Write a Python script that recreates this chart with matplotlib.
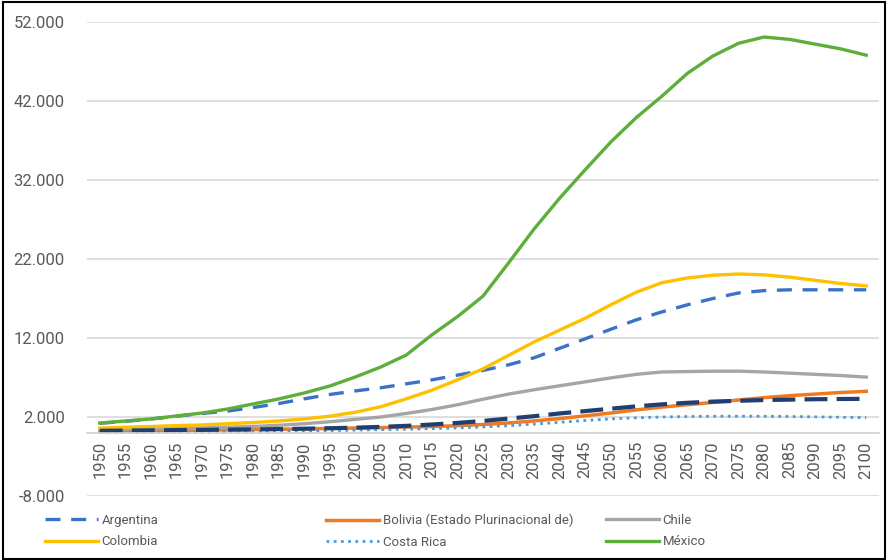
import matplotlib
matplotlib.use("Agg")
import matplotlib.pyplot as plt
from matplotlib.patches import Rectangle
from matplotlib.ticker import FuncFormatter

plt.rcParams['font.family'] = ['Roboto', 'DejaVu Sans']

years = list(range(1950, 2101, 5))

argentina = [1200, 1450, 1750, 2100, 2450, 2750, 3200, 3700, 4300, 4850, 5300, 5700,
             6200, 6700, 7300, 7900, 8600, 9500, 10700, 11900, 13100, 14300, 15300,
             16200, 17000, 17700, 18000, 18100, 18100, 18100, 18100]
bolivia = [220, 240, 270, 300, 330, 370, 410, 450, 500, 550, 600, 660, 720, 800, 900,
           1050, 1250, 1500, 1800, 2150, 2500, 2900, 3250, 3550, 3850, 4150, 4450,
           4700, 4900, 5100, 5250]
chile = [400, 450, 500, 560, 620, 700, 800, 950, 1150, 1400, 1700, 2000, 2450, 2950,
         3550, 4250, 4900, 5450, 5950, 6450, 6950, 7400, 7700, 7750, 7800, 7800, 7700,
         7550, 7400, 7250, 7050]
colombia = [600, 700, 800, 900, 1000, 1150, 1300, 1500, 1750, 2100, 2600, 3300, 4300,
            5400, 6700, 8100, 9800, 11500, 13000, 14500, 16200, 17800, 19000, 19600,
            19950, 20100, 20000, 19700, 19300, 18900, 18600]
costa_rica = [60, 70, 80, 90, 110, 130, 160, 190, 230, 280, 340, 400, 460, 530, 610,
              740, 900, 1100, 1330, 1560, 1760, 1900, 2000, 2060, 2090, 2100, 2090,
              2060, 2020, 1970, 1920]
mexico = [1240, 1490, 1750, 2130, 2500, 3010, 3650, 4280, 5040, 5920, 7060, 8330, 9850,
          12400, 14700, 17300, 21500, 25800, 29700, 33300, 36800, 39900, 42600, 45500,
          47700, 49300, 50100, 49800, 49200, 48600, 47800]
otro = [250, 280, 310, 340, 370, 400, 430, 470, 520, 580, 650, 750, 880, 1050, 1250,
        1500, 1800, 2100, 2450, 2750, 3050, 3350, 3600, 3800, 3950, 4050, 4150, 4200,
        4250, 4280, 4300]

TXT = '#595959'

fig = plt.figure(figsize=(8.88, 5.6), dpi=100)
ax = fig.add_axes([87/888, 1-496/560, (879-87)/888, (496-22)/560])

x = list(range(len(years)))
l_arg, = ax.plot(x, argentina, color='#3A72C8', lw=2.4, dashes=(4.5, 3.2), label='Argentina')
l_bol, = ax.plot(x, bolivia, color='#F07A22', lw=2.5, label='Bolivia (Estado Plurinacional de)')
l_chi, = ax.plot(x, chile, color='#A5A5A5', lw=2.4, label='Chile')
l_col, = ax.plot(x, colombia, color='#FFC000', lw=2.4, label='Colombia')
l_cr, = ax.plot(x, costa_rica, color='#4C9BD8', lw=2.0, dashes=(1, 1.6), label='Costa Rica')
l_mex, = ax.plot(x, mexico, color='#5DAE3A', lw=2.4, label='México')
ax.plot(x, otro, color='#1F3F73', lw=3.0, dashes=(5.5, 2.2), label='_nolegend_')

ax.set_xlim(-0.5, 30.5)
ax.set_ylim(-8000, 52000)
ax.set_yticks(range(-8000, 52001, 10000))
ax.yaxis.set_major_formatter(FuncFormatter(lambda v, p: f"{v:,.0f}".replace(',', '.')))
ax.grid(axis='y', color='#D9D9D9', lw=1.2)
ax.set_axisbelow(True)
for s in ['top', 'right', 'left']:
    ax.spines[s].set_visible(False)
ax.spines['bottom'].set_position(('data', 0))
ax.spines['bottom'].set_color('#D0D0D0')
ax.spines['bottom'].set_linewidth(1.2)
ax.set_xticks(x)
ax.set_xticklabels([str(y) for y in years], rotation=90)
ax.tick_params(axis='x', length=0, pad=6, labelsize=12, labelcolor=TXT)
ax.tick_params(axis='y', length=0, pad=16, labelsize=12, labelcolor=TXT)

legend_cols = [([l_arg, l_col], 45), ([l_bol, l_cr], 326), ([l_chi, l_mex], 606)]
for handles, xpx in legend_cols:
    leg = fig.legend(handles=handles, loc='upper left',
                     bbox_to_anchor=(xpx/888, 1-514/560), bbox_transform=fig.transFigure,
                     frameon=False, borderpad=0, borderaxespad=0, fontsize=9.5,
                     handlelength=4.0, handletextpad=0.3, labelspacing=0.63)
    for t in leg.get_texts():
        t.set_color(TXT)

fig.patches.append(Rectangle((3/888, 1/560), (885-3)/888, (558-1)/560,
                             transform=fig.transFigure, fill=False, ec='black', lw=1.5))

fig.savefig('out.png', dpi=100)
